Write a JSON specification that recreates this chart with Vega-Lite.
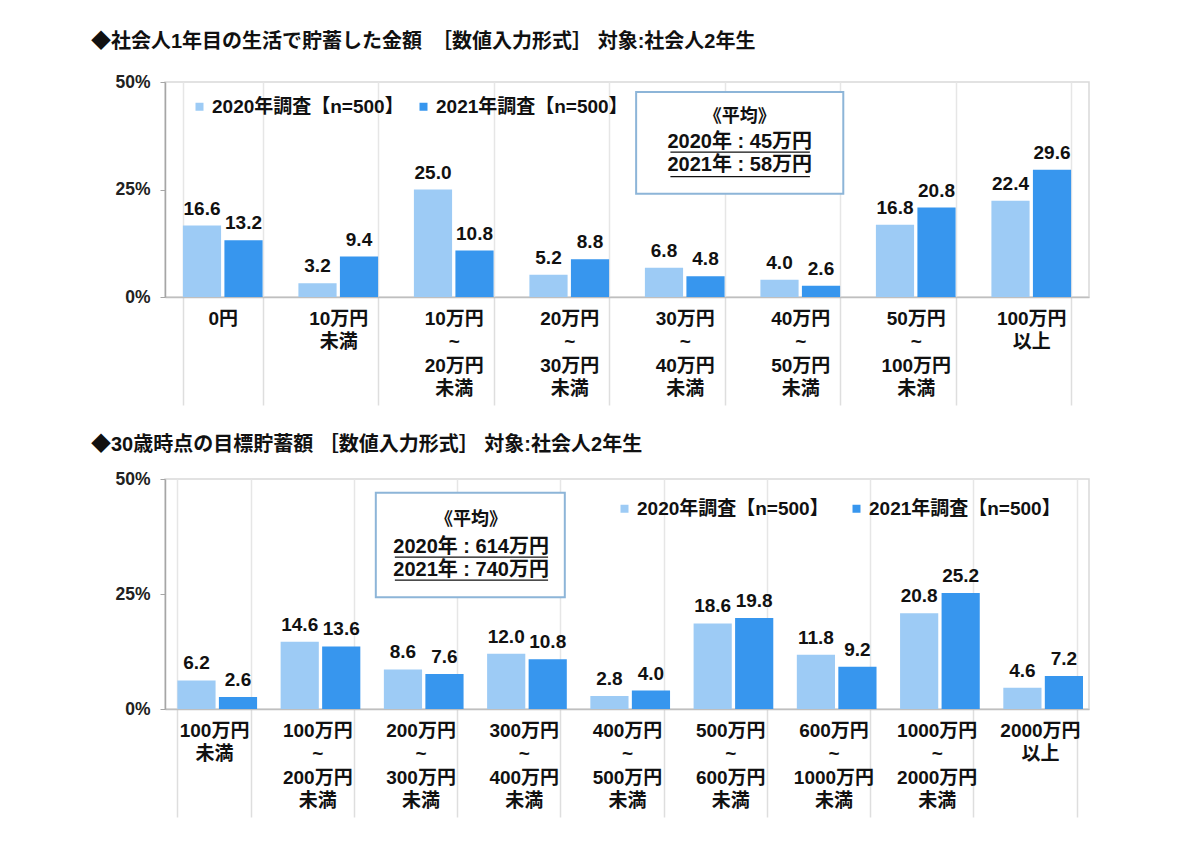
{
  "$schema": "https://vega.github.io/schema/vega-lite/v6.json",
  "background": "white",
  "padding": {"left": 90, "top": 31, "right": 20, "bottom": 10},
  "spacing": 27,
  "config": {
    "font": "Liberation Sans, Noto Sans CJK JP",
    "view": {"stroke": "#d9d9d9", "strokeWidth": 1.5},
    "axisX": {
      "title": null, "labelAngle": 0, "labelExpr": "split(datum.label, '|')",
      "labelFontSize": 19, "labelFontWeight": "bold", "labelColor": "#111111", "labelLineHeight": 23.5,
      "tickBand": "extent", "tickSize": 108, "tickColor": "#dedede", "tickWidth": 1.5,
      "grid": true, "gridColor": "#e6e6e6", "gridWidth": 1.5,
      "domainColor": "#bfbfbf", "domainWidth": 1.5, "labelPadding": -96, "labelBaseline": "top"
    },
    "axisY": {
      "title": null, "grid": false, "domainColor": "#a6a6a6", "domainWidth": 1.5,
      "tickColor": "#a6a6a6", "tickSize": 5, "labelFontSize": 17.5, "labelFontWeight": "bold",
      "labelColor": "#222222", "labelPadding": 10
    },
    "title": {"anchor": "start", "frame": "group", "dx": -74, "fontSize": 20, "fontWeight": "bold", "color": "#111111"},
    "legend": {
      "orient": "none", "direction": "horizontal", "title": null, "symbolType": "square",
      "symbolSize": 64, "symbolStrokeWidth": 0, "labelFontSize": 19, "labelFontWeight": "bold",
      "labelColor": "#111111", "labelOffset": 3, "labelLimit": 400
    }
  },
  "datasets": {
    "p1": [
      {"cat": "0円", "series": "2020年調査【n=500】", "value": 16.6},
      {"cat": "0円", "series": "2021年調査【n=500】", "value": 13.2},
      {"cat": "10万円|未満", "series": "2020年調査【n=500】", "value": 3.2},
      {"cat": "10万円|未満", "series": "2021年調査【n=500】", "value": 9.4},
      {"cat": "10万円|~|20万円|未満", "series": "2020年調査【n=500】", "value": 25.0},
      {"cat": "10万円|~|20万円|未満", "series": "2021年調査【n=500】", "value": 10.8},
      {"cat": "20万円|~|30万円|未満", "series": "2020年調査【n=500】", "value": 5.2},
      {"cat": "20万円|~|30万円|未満", "series": "2021年調査【n=500】", "value": 8.8},
      {"cat": "30万円|~|40万円|未満", "series": "2020年調査【n=500】", "value": 6.8},
      {"cat": "30万円|~|40万円|未満", "series": "2021年調査【n=500】", "value": 4.8},
      {"cat": "40万円|~|50万円|未満", "series": "2020年調査【n=500】", "value": 4.0},
      {"cat": "40万円|~|50万円|未満", "series": "2021年調査【n=500】", "value": 2.6},
      {"cat": "50万円|~|100万円|未満", "series": "2020年調査【n=500】", "value": 16.8},
      {"cat": "50万円|~|100万円|未満", "series": "2021年調査【n=500】", "value": 20.8},
      {"cat": "100万円|以上", "series": "2020年調査【n=500】", "value": 22.4},
      {"cat": "100万円|以上", "series": "2021年調査【n=500】", "value": 29.6}
    ],
    "p2": [
      {"cat": "100万円|未満", "series": "2020年調査【n=500】", "value": 6.2},
      {"cat": "100万円|未満", "series": "2021年調査【n=500】", "value": 2.6},
      {"cat": "100万円|~|200万円|未満", "series": "2020年調査【n=500】", "value": 14.6},
      {"cat": "100万円|~|200万円|未満", "series": "2021年調査【n=500】", "value": 13.6},
      {"cat": "200万円|~|300万円|未満", "series": "2020年調査【n=500】", "value": 8.6},
      {"cat": "200万円|~|300万円|未満", "series": "2021年調査【n=500】", "value": 7.6},
      {"cat": "300万円|~|400万円|未満", "series": "2020年調査【n=500】", "value": 12.0},
      {"cat": "300万円|~|400万円|未満", "series": "2021年調査【n=500】", "value": 10.8},
      {"cat": "400万円|~|500万円|未満", "series": "2020年調査【n=500】", "value": 2.8},
      {"cat": "400万円|~|500万円|未満", "series": "2021年調査【n=500】", "value": 4.0},
      {"cat": "500万円|~|600万円|未満", "series": "2020年調査【n=500】", "value": 18.6},
      {"cat": "500万円|~|600万円|未満", "series": "2021年調査【n=500】", "value": 19.8},
      {"cat": "600万円|~|1000万円|未満", "series": "2020年調査【n=500】", "value": 11.8},
      {"cat": "600万円|~|1000万円|未満", "series": "2021年調査【n=500】", "value": 9.2},
      {"cat": "1000万円|~|2000万円|未満", "series": "2020年調査【n=500】", "value": 20.8},
      {"cat": "1000万円|~|2000万円|未満", "series": "2021年調査【n=500】", "value": 25.2},
      {"cat": "2000万円|以上", "series": "2020年調査【n=500】", "value": 4.6},
      {"cat": "2000万円|以上", "series": "2021年調査【n=500】", "value": 7.2}
    ]
  },
  "resolve": {"legend": {"color": "independent"}},
  "vconcat": [
    {
      "width": 924, "height": 215,
      "title": {"text": "◆社会人1年目の生活で貯蓄した金額　［数値入力形式］ 対象:社会人2年生", "offset": 21},
      "layer": [
        {
          "data": {"name": "p1"},
          "mark": {"type": "bar"},
          "encoding": {
            "x": {"field": "cat", "type": "nominal", "scale": {"domain": ["0円", "10万円|未満", "10万円|~|20万円|未満", "20万円|~|30万円|未満", "30万円|~|40万円|未満", "40万円|~|50万円|未満", "50万円|~|100万円|未満", "100万円|以上"], "paddingInner": 0.31, "paddingOuter": 0.155}},
            "xOffset": {"field": "series", "type": "nominal", "scale": {"paddingInner": 0.08}},
            "y": {"field": "value", "type": "quantitative", "scale": {"domain": [0, 50]}, "axis": {"values": [0, 25, 50], "labelExpr": "datum.value + '%'"}},
            "color": {"field": "series", "type": "nominal", "scale": {"range": ["#9dcbf5", "#3796ee"]}, "legend": {"legendX": 25, "legendY": 15, "columnPadding": 10}}
          }
        },
        {
          "data": {"name": "p1"},
          "mark": {"type": "text", "baseline": "bottom", "dy": -7, "fontSize": 19, "fontWeight": "bold", "color": "#111111"},
          "encoding": {
            "x": {"field": "cat", "type": "nominal"},
            "xOffset": {"field": "series", "type": "nominal"},
            "y": {"field": "value", "type": "quantitative"},
            "text": {"field": "value", "type": "quantitative", "format": ".1f"}
          }
        },
        {
          "data": {"values": [{"c1": "30万円|~|40万円|未満", "c2": "40万円|~|50万円|未満", "top": 47.7, "bottom": 24.0}]},
          "mark": {"type": "rect", "fill": "white", "stroke": "#8db5d8", "strokeWidth": 2},
          "encoding": {
            "x": {"field": "c1", "type": "nominal", "bandPosition": -0.11},
            "x2": {"field": "c2", "bandPosition": 1.04},
            "y": {"field": "top", "type": "quantitative"},
            "y2": {"field": "bottom"}
          }
        },
        {
          "data": {"values": [{"c": "30万円|~|40万円|未満", "y": 41.9, "t": "《平均》"}]},
          "mark": {"type": "text", "baseline": "middle", "fontSize": 18, "fontWeight": "bold", "color": "#111111"},
          "encoding": {
            "x": {"field": "c", "type": "nominal", "bandPosition": 1.19},
            "y": {"field": "y", "type": "quantitative"},
            "text": {"field": "t"}
          }
        },
        {
          "data": {"values": [
            {"c": "30万円|~|40万円|未満", "y": 36.0, "t": "2020年 : 45万円"},
            {"c": "30万円|~|40万円|未満", "y": 30.7, "t": "2021年 : 58万円"}
          ]},
          "mark": {"type": "text", "baseline": "middle", "fontSize": 20, "fontWeight": "bold", "color": "#111111"},
          "encoding": {
            "x": {"field": "c", "type": "nominal", "bandPosition": 1.19},
            "y": {"field": "y", "type": "quantitative"},
            "text": {"field": "t"}
          }
        },
        {
          "data": {"values": [
            {"c": "30万円|~|40万円|未満", "y": 33.7},
            {"c": "30万円|~|40万円|未満", "y": 28.0}
          ]},
          "mark": {"type": "rule", "color": "#111111", "strokeWidth": 1.2},
          "encoding": {
            "x": {"field": "c", "type": "nominal", "bandPosition": 0.32},
            "x2": {"field": "c", "bandPosition": 2.07},
            "y": {"field": "y", "type": "quantitative"}
          }
        }
      ]
    },
    {
      "width": 924, "height": 230,
      "title": {"text": "◆30歳時点の目標貯蓄額 ［数値入力形式］ 対象:社会人2年生", "offset": 15},
      "layer": [
        {
          "data": {"name": "p2"},
          "mark": {"type": "bar"},
          "encoding": {
            "x": {"field": "cat", "type": "nominal", "scale": {"domain": ["100万円|未満", "100万円|~|200万円|未満", "200万円|~|300万円|未満", "300万円|~|400万円|未満", "400万円|~|500万円|未満", "500万円|~|600万円|未満", "600万円|~|1000万円|未満", "1000万円|~|2000万円|未満", "2000万円|以上"], "paddingInner": 0.29, "paddingOuter": 0.12}},
            "xOffset": {"field": "series", "type": "nominal", "scale": {"paddingInner": 0.1}},
            "y": {"field": "value", "type": "quantitative", "scale": {"domain": [0, 50]}, "axis": {"values": [0, 25, 50], "labelExpr": "datum.value + '%'"}},
            "color": {"field": "series", "type": "nominal", "scale": {"range": ["#9dcbf5", "#3796ee"]}, "legend": {"legendX": 450, "legendY": 20, "columnPadding": 18}}
          }
        },
        {
          "data": {"name": "p2"},
          "mark": {"type": "text", "baseline": "bottom", "dy": -7, "fontSize": 19, "fontWeight": "bold", "color": "#111111"},
          "encoding": {
            "x": {"field": "cat", "type": "nominal"},
            "xOffset": {"field": "series", "type": "nominal"},
            "y": {"field": "value", "type": "quantitative"},
            "text": {"field": "value", "type": "quantitative", "format": ".1f"}
          }
        },
        {
          "data": {"values": [{"c1": "200万円|~|300万円|未満", "c2": "300万円|~|400万円|未満", "top": 47.0, "bottom": 24.3}]},
          "mark": {"type": "rect", "fill": "white", "stroke": "#8db5d8", "strokeWidth": 2},
          "encoding": {
            "x": {"field": "c1", "type": "nominal", "bandPosition": -0.11},
            "x2": {"field": "c2", "bandPosition": 1.06},
            "y": {"field": "top", "type": "quantitative"},
            "y2": {"field": "bottom"}
          }
        },
        {
          "data": {"values": [{"c": "200万円|~|300万円|未満", "y": 41.1, "t": "《平均》"}]},
          "mark": {"type": "text", "baseline": "middle", "fontSize": 18, "fontWeight": "bold", "color": "#111111"},
          "encoding": {
            "x": {"field": "c", "type": "nominal", "bandPosition": 1.19},
            "y": {"field": "y", "type": "quantitative"},
            "text": {"field": "t"}
          }
        },
        {
          "data": {"values": [
            {"c": "200万円|~|300万円|未満", "y": 35.2, "t": "2020年 : 614万円"},
            {"c": "200万円|~|300万円|未満", "y": 30.2, "t": "2021年 : 740万円"}
          ]},
          "mark": {"type": "text", "baseline": "middle", "fontSize": 20, "fontWeight": "bold", "color": "#111111"},
          "encoding": {
            "x": {"field": "c", "type": "nominal", "bandPosition": 1.19},
            "y": {"field": "y", "type": "quantitative"},
            "text": {"field": "t"}
          }
        },
        {
          "data": {"values": [
            {"c": "200万円|~|300万円|未満", "y": 33.0},
            {"c": "200万円|~|300万円|未満", "y": 28.0}
          ]},
          "mark": {"type": "rule", "color": "#111111", "strokeWidth": 1.2},
          "encoding": {
            "x": {"field": "c", "type": "nominal", "bandPosition": 0.15},
            "x2": {"field": "c", "bandPosition": 2.24},
            "y": {"field": "y", "type": "quantitative"}
          }
        }
      ]
    }
  ]
}
